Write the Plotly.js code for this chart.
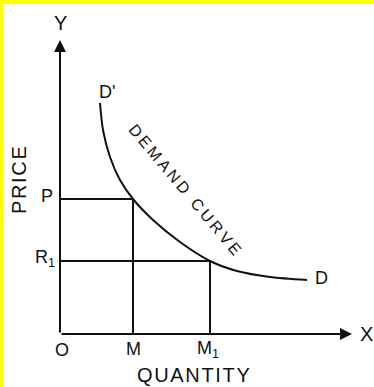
<!DOCTYPE html>
<html>
<head>
<meta charset="utf-8">
<script src="https://cdn.plot.ly/plotly-3.0.1.min.js"></script>
<style>
  html, body { margin: 0; padding: 0; background: #fff; }
  #frame { width: 371px; height: 383px; border-top: 4px solid #ffff00; border-left: 3px solid #ffff00; }
  #chart { width: 371px; height: 383px; }
</style>
</head>
<body>
<div id="frame"><div id="chart"></div></div>
<script>
// demand curve (quantity, price)
var curveQ = [40, 43, 50, 60, 73, 93, 120, 150, 177, 210, 247];
var curveP = [231, 204, 177, 154, 135, 114, 92, 73, 63, 57, 54];

// the two price / quantity pairs
var priceP = 135, priceR1 = 73;
var qtyM = 73, qtyM1 = 150;

// axis ends
var yTop = 294, xEnd = 292;

var ink = '#111';
var fontName = 'Liberation Sans, Arial, sans-serif';
var ts = '\u2009'; // thin space, used to spread the curve label
var hs = '\u200A'; // hair space

function spread(s, gap) {
    return s.split('').join(gap);
}

var data = [{
    // P : M box
    x: [0, qtyM, qtyM],
    y: [priceP, priceP, 0],
    type: 'scatter',
    mode: 'lines',
    line: { color: ink, width: 2 },
    hoverinfo: 'skip'
}, {
    // R1 : M1 box
    x: [0, qtyM1, qtyM1],
    y: [priceR1, priceR1, 0],
    type: 'scatter',
    mode: 'lines',
    line: { color: ink, width: 2 },
    hoverinfo: 'skip'
}, {
    name: 'Demand',
    x: curveQ,
    y: curveP,
    type: 'scatter',
    mode: 'lines',
    line: { color: ink, width: 2, shape: 'spline', smoothing: 0.8 },
    hoverinfo: 'skip'
}];

function label(txt, x, y, size) {
    return {
        x: x, y: y, xref: 'x', yref: 'y',
        text: txt, showarrow: false,
        font: { family: fontName, size: size || 18, color: ink }
    };
}

function axisArrow(x, y) {
    return {
        x: x, y: y, ax: 0, ay: 0,
        xref: 'x', yref: 'y', axref: 'x', ayref: 'y',
        text: '', showarrow: true,
        arrowhead: 2, arrowsize: 1.2, arrowwidth: 2, arrowcolor: ink
    };
}

var annotations = [
    axisArrow(0, yTop),
    axisArrow(xEnd, 0),
    label('Y', 0, 311, 20),
    label('X', 306, 0, 20),
    label('O', 2, -16),
    label('M', qtyM, -15),
    label('M<sub>1</sub>', qtyM1 - 2, -15),
    label('P', -13, priceP + 3),
    label('R<sub>1</sub>', -15, priceR1 + 3),
    label("D'", 47, 242),
    label('D', 261, 56),
    label(spread('QUANTITY', hs), 133, -41, 20),
    {
        x: -41, y: 154, xref: 'x', yref: 'y',
        text: spread('PRICE', hs), textangle: -90, showarrow: false,
        font: { family: fontName, size: 20, color: ink }
    },
    {
        x: 125, y: 145, xref: 'x', yref: 'y',
        text: spread('DEMAND', ts) + ts + ' ' + ts + spread('CURVE', ts),
        textangle: 50, showarrow: false,
        font: { family: fontName, size: 16, color: ink }
    }
];

var layout = {
    width: 371,
    height: 383,
    margin: { l: 0, r: 0, t: 0, b: 0, pad: 0 },
    paper_bgcolor: '#fff',
    plot_bgcolor: '#fff',
    showlegend: false,
    xaxis: {
        range: [-57, 314],
        visible: false,
        fixedrange: true
    },
    yaxis: {
        range: [-53, 330],
        visible: false,
        fixedrange: true
    },
    annotations: annotations
};

var config = { staticPlot: true };

Plotly.newPlot('chart', data, layout, config);
</script>
</body>
</html>
